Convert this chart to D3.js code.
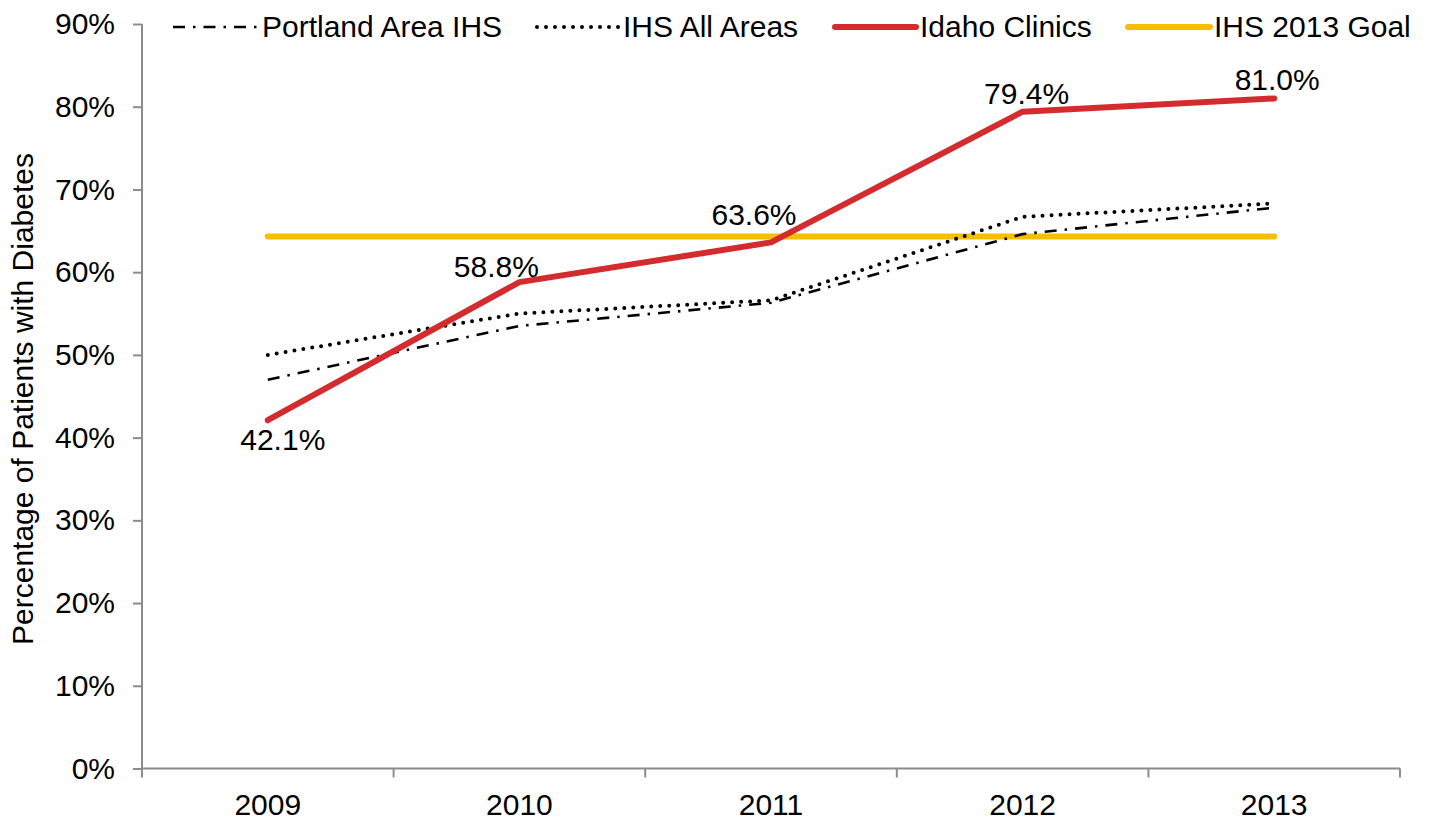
<!DOCTYPE html>
<html>
<head>
<meta charset="utf-8">
<script src="https://cdn.jsdelivr.net/npm/d3@7"></script>
<style>
  body { margin: 0; background: #fff; }
  text { font-family: "Liberation Sans", Arial, sans-serif; fill: #000; }
</style>
</head>
<body>
<svg id="chart" width="1434" height="822"></svg>
<script>
// data
var years = ["2009", "2010", "2011", "2012", "2013"];
var portland = [47.0, 53.5, 56.3, 64.6, 67.8];
var ihsAll = [50.0, 55.0, 56.6, 66.7, 68.3];
var idaho = [42.1, 58.8, 63.6, 79.4, 81.0];
var goal = [64.3, 64.3, 64.3, 64.3, 64.3];
var yTicks = [0, 10, 20, 30, 40, 50, 60, 70, 80, 90];

var svg = d3.select("#chart");
var plotL = 142, plotR = 1400, plotT = 24, plotB = 768.5;
var fs = 30;

var x = d3.scaleBand().domain(years).range([plotL, plotR]);
var y = d3.scaleLinear().domain([0, 90]).range([plotB, plotT]);
var axisColor = "#8c8c8c";

// y axis
var yAxis = svg.append("g")
	.attr("transform", "translate(" + plotL + ",0)")
	.call(d3.axisLeft(y).tickValues(yTicks).tickSize(9).tickPadding(18)
		.tickFormat(function(d) { return d + "%"; }));
yAxis.selectAll("path, line").attr("stroke", axisColor).attr("stroke-width", 2);
yAxis.select(".domain").attr("d", "M0," + plotT + "V" + plotB);
yAxis.selectAll("text").attr("font-size", fs).attr("font-family", "Liberation Sans, Arial, sans-serif").attr("fill", "#000");

// x axis (ticks on band edges, like excel)
var xg = svg.append("g").attr("transform", "translate(0," + plotB + ")");
xg.append("line").attr("x1", plotL).attr("x2", plotR)
	.attr("stroke", axisColor).attr("stroke-width", 2);
var edges = years.map(function(d) { return x(d); }).concat([plotR]);
xg.selectAll(".edge").data(edges).enter().append("line")
	.attr("x1", function(d) { return d; }).attr("x2", function(d) { return d; })
	.attr("y1", 0).attr("y2", 9)
	.attr("stroke", axisColor).attr("stroke-width", 2);
xg.selectAll(".lbl").data(years).enter().append("text")
	.attr("x", function(d) { return x(d) + x.bandwidth() / 2; })
	.attr("y", 46.5)
	.attr("text-anchor", "middle")
	.attr("font-size", fs)
	.text(function(d) { return d; });

// axis title
svg.append("text")
	.attr("transform", "translate(33,399) rotate(-90)")
	.attr("text-anchor", "middle")
	.attr("font-size", fs)
	.text("Percentage of Patients with Diabetes");

var line = d3.line()
	.x(function(d, i) { return x(years[i]) + x.bandwidth() / 2; })
	.y(function(d) { return y(d); });

// series
svg.append("path").datum(goal).attr("d", line)
	.attr("fill", "none").attr("stroke", "#F5BE00").attr("stroke-width", 6)
	.attr("stroke-linecap", "round");
svg.append("path").datum(portland).attr("d", line)
	.attr("fill", "none").attr("stroke", "#000").attr("stroke-width", 2.6)
	.attr("stroke-dasharray", "12,8,2.5,8");
svg.append("path").datum(ihsAll).attr("d", line)
	.attr("fill", "none").attr("stroke", "#000").attr("stroke-width", 4)
	.attr("stroke-linecap", "round").attr("stroke-dasharray", "0,9");
svg.append("path").datum(idaho).attr("d", line)
	.attr("fill", "none").attr("stroke", "#D42B2F").attr("stroke-width", 6)
	.attr("stroke-linecap", "round").attr("stroke-linejoin", "round");

// data labels for idaho
var labelOff = [[15, 30], [-23, -5], [-17, -17], [4, -8], [3, -8]];
svg.selectAll(".dlabel").data(idaho).enter().append("text")
	.attr("x", function(d, i) { return x(years[i]) + x.bandwidth() / 2 + labelOff[i][0]; })
	.attr("y", function(d, i) { return y(d) + labelOff[i][1]; })
	.attr("text-anchor", "middle")
	.attr("font-size", fs)
	.text(function(d) { return d.toFixed(1) + "%"; });

// legend
var legend = [
	{name: "Portland Area IHS", x1: 173, x2: 258, stroke: "#000", w: 2.6, dash: "12,8,2.5,8", cap: "butt"},
	{name: "IHS All Areas", x1: 537, x2: 619, stroke: "#000", w: 4, dash: "0,9", cap: "round"},
	{name: "Idaho Clinics", x1: 835, x2: 916, stroke: "#D42B2F", w: 6, dash: null, cap: "round"},
	{name: "IHS 2013 Goal", x1: 1128, x2: 1210, stroke: "#F5BE00", w: 6, dash: null, cap: "round"}
];
var lg = svg.append("g");
legend.forEach(function(l) {
	lg.append("line")
		.attr("x1", l.x1).attr("x2", l.x2).attr("y1", 27).attr("y2", 27)
		.attr("stroke", l.stroke).attr("stroke-width", l.w)
		.attr("stroke-dasharray", l.dash).attr("stroke-linecap", l.cap);
	lg.append("text")
		.attr("x", l.x2 + 4).attr("y", 37)
		.attr("font-size", fs)
		.text(l.name);
});
</script>
</body>
</html>
